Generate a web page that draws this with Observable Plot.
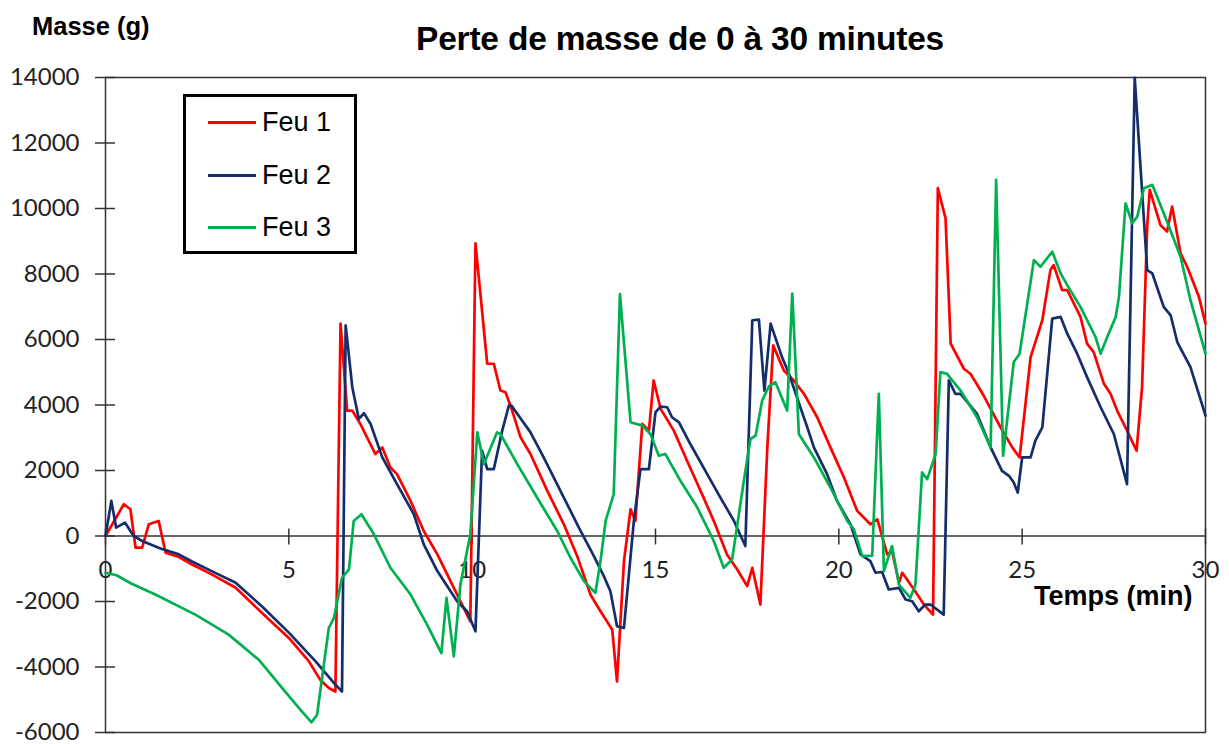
<!DOCTYPE html>
<html>
<head>
<meta charset="utf-8">
<script src="https://cdn.jsdelivr.net/npm/d3@7"></script>
<script src="https://cdn.jsdelivr.net/npm/@observablehq/plot@0.6"></script>
<style>
  html, body { margin: 0; padding: 0; background: #fff; }
  #wrap { position: relative; width: 1229px; height: 744px; overflow: hidden; background: #fff; }
  #title { position: absolute; left: 0; width: 1360px; top: 22px; text-align: center; font: bold 33.5px "Liberation Sans", Arial, sans-serif; line-height: 33px; color: #000; letter-spacing: -0.2px; }
  #ylab { position: absolute; left: 32px; top: 14px; font: bold 25.5px "Liberation Sans", Arial, sans-serif; line-height: 25px; color: #000; }
  #chart { position: absolute; left: 0; top: 60px; }
  #legend { position: absolute; left: 183px; top: 94px; width: 168px; height: 154px; border: 3px solid #000; background: #fff; }
  .row { position: absolute; left: 22px; height: 30px; display: flex; align-items: center; font: 27px "Liberation Sans", Arial, sans-serif; color: #000; }
  .sw { width: 48px; height: 3px; margin-right: 6px; }
</style>
</head>
<body>
<div id="wrap">
  <div id="title"></div>
  <div id="ylab"></div>
  <div id="chart"></div>
  <div id="legend"></div>
</div>
<script>
// ---- data ----
const chartTitle = "Perte de masse de 0 à 30 minutes";
const yLabel = "Masse (g)";
const xLabel = "Temps (min)";
const seriesNames = ["Feu 1", "Feu 2", "Feu 3"];
const seriesColors = ["#ff0000", "#142d6b", "#00b050"];
const xTicks = [0, 5, 10, 15, 20, 25, 30];
const yTicks = [-6000, -4000, -2000, 0, 2000, 4000, 6000, 8000, 10000, 12000, 14000];

// Feu 1
const t1 = [0, 0.5, 0.68, 0.82, 1.0, 1.18, 1.45, 1.64, 2.0, 2.36, 2.91, 3.55, 4.27, 5.0, 5.55, 5.86, 6.1, 6.27,
  6.41, 6.59, 6.73, 6.95, 7.36, 7.55, 7.77, 7.95, 8.32, 8.68, 9.05, 9.5, 9.95,
  10.09, 10.41, 10.59, 10.77, 10.91, 11.09, 11.32, 11.59, 12.05, 12.5, 12.86, 13.23, 13.5, 13.82, 13.95,
  14.14, 14.32, 14.45, 14.64, 14.82, 14.95, 15.14, 15.5, 15.86, 16.23, 16.59, 16.95, 17.23, 17.5, 17.64, 17.86,
  18.05, 18.21, 18.5, 18.77, 19.05, 19.41, 19.77, 20.14, 20.5, 20.86, 21.05, 21.32, 21.45, 21.64, 21.73, 22.05, 22.32, 22.57,
  22.7, 22.91, 23.05, 23.41, 23.59, 23.95, 24.41, 24.73, 24.93, 25.23, 25.55, 25.77, 25.86, 26.09, 26.23, 26.59, 26.77, 26.95,
  27.23, 27.41, 27.59, 27.86, 28.12, 28.27, 28.41, 28.48, 28.77, 28.95, 29.09, 29.32, 29.5, 29.82, 30];
const m1 = [0, 970, 817, -357, -357, 357, 460, -510, -640, -870, -1180, -1580, -2350, -3114, -3830, -4400, -4650, -4750,
  6485, 3830, 3830, 3422, 2502, 2706, 2093, 1889, 1072, 153, -562, -1583, -2604,
  8936, 5260, 5260, 4442, 4391, 3830, 3012, 2502, 1379, 357, -600, -1800, -2298, -2860, -4442,
  -766, 817, 460, 3422, 3217, 4749, 3881, 3217, 2298, 1379, 460, -562, -1021, -1532, -970, -2093,
  2706, 5821, 5055, 4749, 4340, 3625, 2706, 1787, 766, 357, 511, -562, -460, -1430, -1123, -1634, -2093, -2400,
  10620, 9702, 5872, 5107, 4953, 4289, 3318, 2706, 2400, 5463, 6587, 8119, 8272, 7506, 7506, 6689, 5872, 5617,
  4646, 4340, 3830, 3217, 2604, 4544, 9446, 10570, 9497, 9293, 10058, 8630, 8221, 7302, 6485];

// Feu 2
const t2 = [0, 0.16, 0.29, 0.53, 0.77, 1.0, 1.5, 2.0, 2.36, 2.91, 3.55, 4.27, 5.0, 5.73, 6.2, 6.45,
  6.55, 6.73, 6.91, 7.05, 7.23, 7.55, 7.95, 8.41, 8.68, 9.05, 9.59, 9.86, 10.09,
  10.27, 10.41, 10.59, 10.82, 11.0, 11.07, 11.59, 11.95, 12.5, 12.91, 13.32, 13.59, 13.77, 13.95, 14.14,
  14.41, 14.59, 14.82, 15.0, 15.14, 15.32, 15.45, 15.64, 15.95, 16.41, 16.77, 17.14, 17.45,
  17.64, 17.82, 17.97, 18.14, 18.45, 18.64, 18.95, 19.14, 19.32, 19.68, 19.95, 20.32, 20.59, 20.86, 21.0, 21.18,
  21.36, 21.64, 21.82, 22.0, 22.18, 22.36, 22.5, 22.86,
  23.0, 23.18, 23.32, 23.77, 24.14, 24.45, 24.64, 24.77, 24.88, 25.0, 25.23, 25.36, 25.55,
  25.82, 26.05, 26.23, 26.5, 26.77, 27.14, 27.5, 27.86,
  28.07, 28.41, 28.55, 28.86, 29.05, 29.23, 29.59, 30];
const m2 = [0, 1072, 255, 409, 0, -153, -380, -560, -780, -1080, -1430, -2150, -2950, -3830, -4450, -4750,
  6434, 4544, 3574, 3748, 3422, 2400, 1583, 664, -255, -1072, -1991, -2298, -2911,
  2604, 2043, 2043, 3217, 3983, 3983, 3165, 2400, 1174, 255, -613, -1225, -1685, -2757, -2808,
  460, 2043, 2043, 3778, 3952, 3932, 3625, 3471, 2809, 1889, 1174, 460, -306,
  6587, 6608, 4442, 6485, 5463, 4953, 3932, 3318, 2706, 1889, 1072, 357, -560, -766, -1123, -1100,
  -1634, -1583, -1940, -1991, -2298, -2093, -2093, -2400,
  4749, 4340, 4340, 3728, 2706, 1991, 1838, 1634, 1327, 2400, 2400, 2911, 3318,
  6638, 6689, 6178, 5566, 4851, 3932, 3114, 1583,
  13990, 8119, 8017, 6995, 6740, 5923, 5157, 3676];

// Feu 3
const t3 = [0, 0.3, 0.7, 1.36, 2.45, 3.36, 4.18, 4.82, 5.36, 5.62, 5.77, 6.09, 6.23, 6.45, 6.64, 6.77, 6.98,
  7.32, 7.77, 8.32, 8.77, 9.16, 9.3, 9.5, 9.68, 9.95, 10.14, 10.32, 10.68, 10.77, 11.23, 11.77, 12.32, 12.68,
  13.05, 13.36, 13.5, 13.64, 13.86, 14.03, 14.32, 14.64, 14.86, 15.09, 15.27, 15.68, 16.14, 16.59, 16.86, 17.09,
  17.41, 17.59, 17.73, 17.91, 18.09, 18.27, 18.59, 18.73, 18.91, 19.32, 19.77, 20.23, 20.41, 20.64, 20.91,
  21.09, 21.23, 21.45, 21.64, 21.95, 22.09, 22.27, 22.41, 22.64, 22.77, 22.95, 23.32, 23.77, 24.14,
  24.29, 24.48, 24.77, 24.93, 25.32, 25.5, 25.82, 26.05, 26.23, 26.59, 27.0, 27.14, 27.32, 27.55, 27.64,
  27.82, 28.0, 28.14, 28.32, 28.55, 28.95, 29.32, 29.59, 30];
const m3 = [-1123, -1200, -1450, -1787, -2400, -3012, -3778, -4646, -5361, -5689, -5463, -2809, -2502, -1277, -1021, 460, 664,
  51, -970, -1787, -2706, -3574, -1889, -3676, -1481, 51, 3165, 2196, 3165, 3114, 2196, 1174, 153, -664,
  -1379, -1736, -766, 460, 1277, 7383, 3471, 3370, 3114, 2451, 2502, 1685, 868, -153, -970, -715,
  1685, 2962, 3063, 4136, 4565, 4697, 3830, 7405, 3114, 2400, 1481, 460, 204, -613, -600,
  4340, -1072, -306, -1481, -1889, -1481, 1940, 1736, 2502, 5004, 4953, 4442, 3625, 2706,
  10876, 2451, 5310, 5566, 8425, 8221, 8680, 8017, 7659, 6995, 6076, 5566, 6076, 6689, 7302,
  10160, 9549, 9753, 10620, 10723, 9600, 8527, 7199, 5566];

// ---- build table ----
const times = [t1, t2, t3];
const masses = [m1, m2, m3];
const rows = [];
seriesNames.forEach((name, k) => {
  times[k].forEach((t, i) => rows.push({serie: name, t, m: masses[k][i]}));
});

// ---- texts ----
document.getElementById("title").textContent = chartTitle;
document.getElementById("ylab").textContent = yLabel;

const axisColor = "#333";
const plot = Plot.plot({
  width: 1229,
  height: 684,
  marginTop: 17,
  marginLeft: 105,
  marginRight: 24,
  marginBottom: 12,
  style: {fontFamily: "Lato, sans-serif", background: "white", overflow: "visible"},
  x: {domain: [0, 30], axis: null},
  y: {domain: [-6000, 14000], axis: null},
  color: {domain: seriesNames, range: seriesColors},
  marks: [
    Plot.frame({stroke: axisColor, strokeWidth: 1.5}),
    Plot.ruleY([0], {stroke: axisColor, strokeWidth: 1.5}),
    Plot.ruleY(yTicks, {y: d => d, x1: 0, x2: 0, insetLeft: -10, insetRight: -10, stroke: axisColor, strokeWidth: 1.5}),
    Plot.ruleX(xTicks, {x: d => d, y1: 0, y2: 0, insetTop: -7, insetBottom: -9, stroke: axisColor, strokeWidth: 1.5}),
    Plot.axisY(yTicks, {tickSize: 0, tickPadding: 26, fontSize: 24, fontFamily: "Lato, sans-serif", fill: "#222", label: null, tickFormat: d => String(d)}),
    Plot.text(xTicks, {x: d => d, y: 0, text: d => String(d), dy: 34, fontSize: 24, fontFamily: "Lato, sans-serif", fill: "#222"}),
    Plot.text([xLabel], {x: xTicks[xTicks.length - 1], y: 0, text: d => d, textAnchor: "end", dx: -13, dy: 60, fontSize: 27, fontWeight: "bold", fontFamily: "Liberation Sans, Arial, sans-serif", fill: "#000"}),
    Plot.line(rows, {x: "t", y: "m", z: "serie", stroke: "serie", strokeWidth: 2.7, strokeLinejoin: "round", strokeLinecap: "round"})
  ]
});
document.getElementById("chart").appendChild(plot);

// ---- legend ----
const legend = document.getElementById("legend");
const rowTops = [10, 63, 115];
seriesNames.forEach((name, k) => {
  const r = document.createElement("div");
  r.className = "row";
  r.style.top = rowTops[k] + "px";
  const sw = document.createElement("span");
  sw.className = "sw";
  sw.style.background = seriesColors[k];
  const tx = document.createElement("span");
  tx.textContent = name;
  r.appendChild(sw);
  r.appendChild(tx);
  legend.appendChild(r);
});
</script>
</body>
</html>
